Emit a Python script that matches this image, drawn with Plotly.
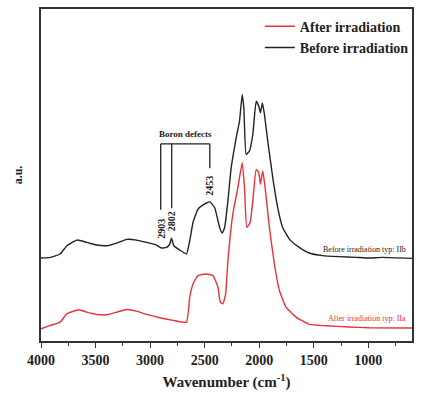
import plotly.graph_objects as go

# Wavenumber (cm-1) and intensity (a.u.)
before_wn = [4000, 3915, 3824, 3763, 3671, 3580, 3489, 3398, 3306, 3215, 3124, 3032, 2941,
             2896, 2850, 2820, 2804, 2783, 2728, 2667, 2637, 2607, 2561, 2515, 2454, 2409,
             2363, 2339, 2317, 2287, 2257, 2211, 2181, 2156, 2141, 2120, 2090, 2059, 2028,
             2004, 1989, 1971, 1952, 1922, 1876, 1831, 1785, 1724, 1633, 1542, 1420, 1268,
             1116, 994, 872, 600]
before_au = [25.0, 25.2, 26.2, 28.7, 30.4, 29.7, 28.9, 28.7, 29.5, 30.6, 30.4, 29.7, 28.9,
             28.0, 28.2, 29.2, 31.0, 28.7, 27.4, 26.2, 30.2, 35.7, 39.7, 41.0, 41.9, 40.2,
             34.2, 32.5, 34.2, 42.2, 52.2, 61.2, 66.2, 74.2, 70.2, 56.2, 57.2, 62.2, 72.2,
             70.7, 68.7, 71.7, 68.2, 60.2, 49.2, 40.2, 34.2, 30.7, 28.2, 26.5, 25.7, 25.4,
             25.2, 25.0, 25.2, 24.9]

after_wn = [4000, 3915, 3824, 3763, 3656, 3580, 3489, 3398, 3306, 3215, 3124, 3032, 2911,
            2789, 2667, 2637, 2607, 2561, 2485, 2424, 2378, 2357, 2333, 2308, 2287, 2242,
            2196, 2156, 2135, 2114, 2083, 2059, 2028, 2004, 1989, 1968, 1946, 1907, 1861,
            1815, 1755, 1663, 1542, 1390, 1177, 994, 600]
after_au = [3.7, 4.7, 5.7, 8.2, 9.4, 8.7, 8.0, 7.9, 8.7, 9.5, 9.0, 8.0, 7.0,
            6.2, 5.7, 13.2, 17.2, 19.7, 20.2, 19.7, 16.2, 11.7, 11.2, 14.2, 24.2, 38.2,
            46.2, 53.7, 46.2, 34.2, 35.7, 42.2, 51.7, 50.7, 47.2, 51.2, 46.2, 34.2, 23.2,
            15.2, 10.2, 7.2, 5.0, 4.6, 4.2, 4.0, 3.9]

defect_wn = [2903, 2802, 2453]
defect_labels = ["2903", "2802", "2453"]
defect_line_bottom = [39.5, 40.0, 52.0]
defect_label_y = [33.7, 36.0, 46.7]
bracket_top = 59.4

tick_vals = [4000, 3500, 3000, 2500, 2000, 1500, 1000]

FONT = "Liberation Serif"

fig = go.Figure()
fig.add_trace(go.Scatter(x=after_wn, y=after_au, mode="lines", name="After irradiation",
                         line=dict(color="#e8323a", width=1.4, shape="spline", smoothing=0.4)))
fig.add_trace(go.Scatter(x=before_wn, y=before_au, mode="lines", name="Before irradiation",
                         line=dict(color="#222222", width=1.4, shape="spline", smoothing=0.4)))

# Boron defect bracket
for wn, yb in zip(defect_wn, defect_line_bottom):
    fig.add_shape(type="line", xref="x", yref="y", x0=wn, x1=wn, y0=yb, y1=bracket_top,
                  line=dict(color="#222222", width=1.3))
fig.add_shape(type="line", xref="x", yref="y", x0=defect_wn[0], x1=defect_wn[-1],
              y0=bracket_top, y1=bracket_top, line=dict(color="#222222", width=1.3))
fig.add_annotation(x=(defect_wn[0] + defect_wn[-1]) / 2, y=bracket_top, yshift=10,
                   text="<b>Boron defects</b>", showarrow=False,
                   font=dict(family=FONT, size=9, color="#222222"))
for wn, lab, ly in zip(defect_wn, defect_labels, defect_label_y):
    fig.add_annotation(x=wn, y=ly, text="<b>" + lab + "</b>", textangle=-90, showarrow=False,
                       font=dict(family=FONT, size=10, color="#222222"))

fig.add_annotation(x=1, xref="paper", xanchor="right", xshift=-4, y=27.7, yref="y",
                   text="Before irradiation typ: IIb", showarrow=False,
                   font=dict(family=FONT, size=8, color="#222222"))
fig.add_annotation(x=1, xref="paper", xanchor="right", xshift=-4, y=6.7, yref="y",
                   text="After irradiation typ: IIa", showarrow=False,
                   font=dict(family=FONT, size=8, color="#e8323a"))

fig.update_layout(
    width=421, height=406,
    margin=dict(l=41, r=8, t=7, b=65),
    paper_bgcolor="white", plot_bgcolor="white",
    font=dict(family=FONT, color="#222222"),
    showlegend=True,
    legend=dict(x=1.005, xanchor="right", y=0.995, yanchor="top", bgcolor="rgba(0,0,0,0)",
                font=dict(family=FONT, size=14, weight="bold", color="#222222"),
                itemwidth=30, tracegroupgap=0),
    xaxis=dict(range=[4000, 600], tickvals=tick_vals, ticks="outside", ticklen=5, tickwidth=1.3,
               tickcolor="#333333", showgrid=False, zeroline=False,
               showline=True, linecolor="#333333", linewidth=1.5, mirror=True,
               tickfont=dict(family=FONT, size=14, weight="bold", color="#222222"),
               minor=dict(dtick=250, tick0=4000, ticks="outside", ticklen=3, tickcolor="#333333"),
               title=dict(text="<b>Wavenumber (cm<sup>-1</sup>)</b>", standoff=10,
                          font=dict(family=FONT, size=15, color="#222222"))),
    yaxis=dict(range=[0, 100], showticklabels=False, ticks="", showgrid=False, zeroline=False,
               showline=True, linecolor="#333333", linewidth=1.5, mirror=True,
               title=dict(text="<b>a.u.</b>", standoff=14,
                          font=dict(family=FONT, size=12, color="#222222"))),
)

fig.write_html("out.html")
